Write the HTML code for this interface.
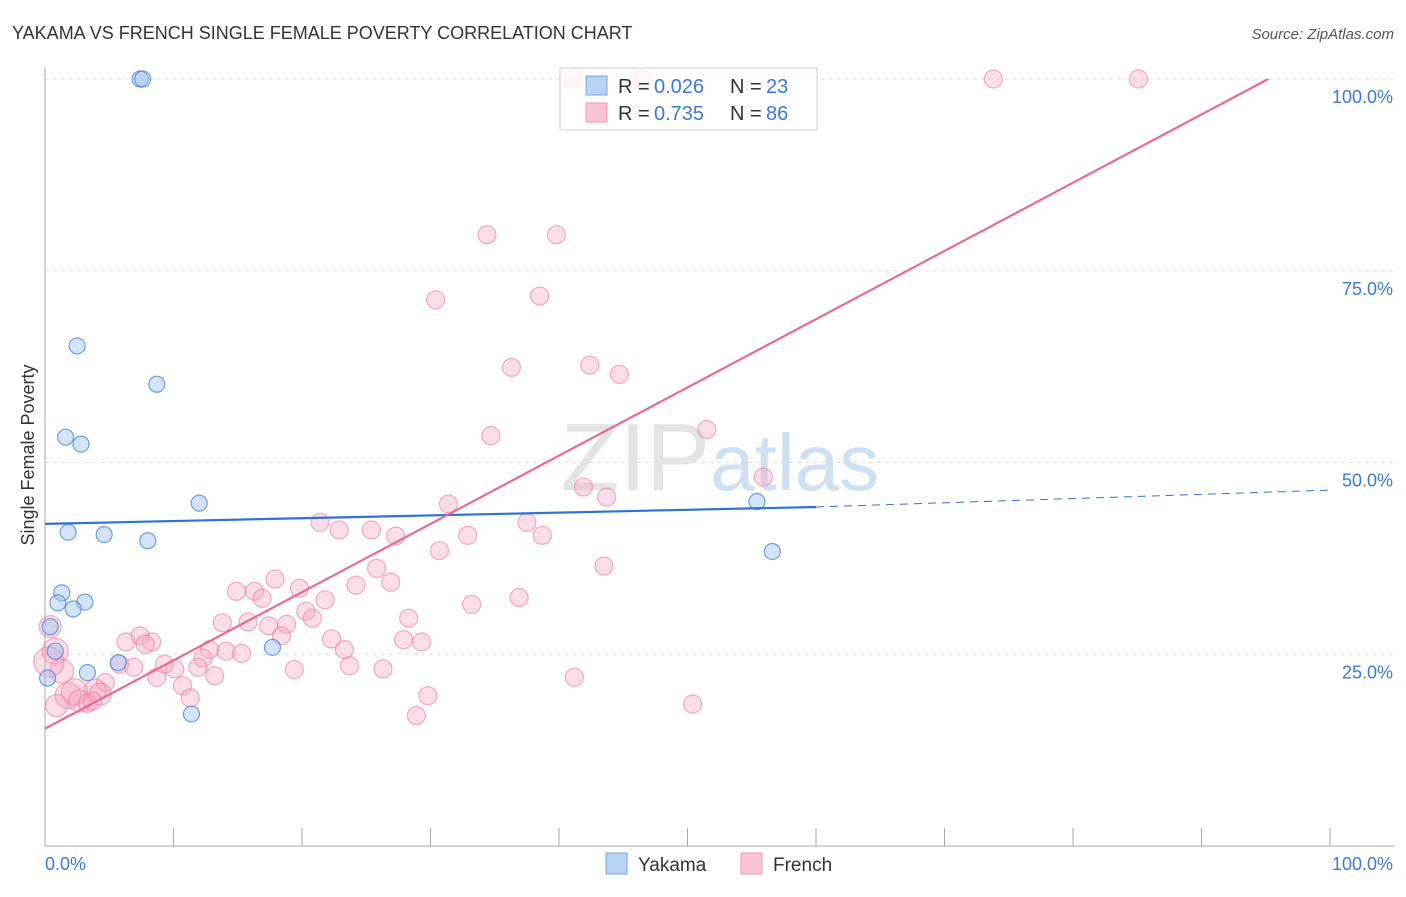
<!DOCTYPE html>
<html><head><meta charset="utf-8"><style>
body{margin:0;background:#fff;font-family:"Liberation Sans",sans-serif;}
svg text{font-family:"Liberation Sans",sans-serif;}
</style></head><body>
<svg id="chart" width="1406" height="892">
<text x="12" y="39" font-size="18" fill="#333">YAKAMA VS FRENCH SINGLE FEMALE POVERTY CORRELATION CHART</text>
<text x="1394" y="39" font-size="15" fill="#555" font-style="italic" text-anchor="end">Source: ZipAtlas.com</text>
<text x="720" y="490" font-size="96" fill="#e3e3e3" text-anchor="middle" font-family="Liberation Serif">ZIP<tspan fill="#cfe0f3" font-family="Liberation Sans" font-size="80">atlas</tspan></text>
<text transform="translate(34,455) rotate(-90)" font-size="18" fill="#333" text-anchor="middle">Single Female Poverty</text>
<g id="grid"></g>
<g id="marks"></g>
<g id="lines"></g>
<rect x="560" y="68" width="257" height="62" fill="rgba(255,255,255,0.8)" stroke="#ccc"/>
<rect x="586" y="76" width="21" height="19" fill="#b9d3f5" stroke="#7aa6e0"/>
<rect x="586" y="103" width="21" height="19" fill="#f9c4d4" stroke="#ee99b3"/>
<g font-size="20">
<text x="618" y="93" fill="#333">R =</text><text x="654" y="93" fill="#3b78d8">0.026</text>
<text x="730" y="93" fill="#333">N =</text><text x="766" y="93" fill="#3b78d8">23</text></g>
<g font-size="20">
<text x="618" y="120" fill="#333">R =</text><text x="654" y="120" fill="#3b78d8">0.735</text>
<text x="730" y="120" fill="#333">N =</text><text x="766" y="120" fill="#3b78d8">86</text></g>
<rect x="606" y="853" width="21" height="21" fill="#b9d3f5" stroke="#7aa6e0"/>
<text x="638" y="871" font-size="19" fill="#333">Yakama</text>
<rect x="741" y="853" width="21" height="21" fill="#f9c4d4" stroke="#ee99b3"/>
<text x="773" y="871" font-size="19" fill="#333">French</text>
</svg>
<script>
const yTicks=[25,50,75,100];
const yTickLabels=["25.0%","50.0%","75.0%","100.0%"];
const blueX=[7.4,7.6,2.5,8.7,1.6,2.8,12,1.8,4.6,8,1.3,1,3.1,2.2,0.4,0.8,3.3,5.7,0.2,17.7,11.4,55.4,56.6];
const blueY=[100,100,65.2,60.2,53.3,52.4,44.7,40.9,40.6,39.8,33,31.7,31.8,30.9,28.6,25.4,22.6,23.9,21.9,25.9,17.2,44.9,38.4];
const pinkX=[41.1,46.5,73.8,85.1,34.4,39.8,30.4,38.5,36.3,42.4,44.7,34.7,51.5,55.9,41.9,43.7,31.4,21.4,37.5,22.9,25.4,27.3,32.9,38.7,30.7,43.5,25.8,17.9,24.2,14.9,16.3,19.8,26.9,16.9,21.8,33.2,36.9,20.3,20.8,28.3,13.8,15.8,17.4,18.8,22.3,27.9,29.3,7.4,6.3,8.3,7.8,12.8,14.1,23.3,15.3,12.3,18.4,0.4,0.8,9.3,11.9,23.7,5.8,6.9,1.3,10.1,8.7,13.2,19.4,26.3,41.2,4.7,3.9,10.7,2.3,4.3,11.3,29.8,1.8,2.7,3.3,3.7,28.9,50.4,0.9,0.3];
const pinkY=[100,100,100,100,79.7,79.7,71.2,71.7,62.4,62.7,61.5,53.5,54.3,48.1,46.8,45.5,44.6,42.2,42.2,41.2,41.2,40.4,40.5,40.5,38.5,36.5,36.2,34.8,34,33.2,33.2,33.6,34.4,32.3,32.1,31.5,32.4,30.6,29.7,29.7,29.1,29.2,28.7,28.9,27,26.9,26.6,27.4,26.6,26.6,26.3,25.6,25.4,25.6,25.1,24.5,27.4,28.6,25.4,23.7,23.3,23.5,23.7,23.3,22.8,23.1,22,22.2,23,23.1,22,21.3,20.3,20.9,20.1,19.8,19.3,19.6,19.6,18.9,18.6,18.9,17,18.5,18.3,24];
const pinkR=[9,9,9,9,9,9,9,9,9,9,9,9,9,9,9,9,9,9,9,9,9,9,9,9,9,9,9,9,9,9,9,9,9,9,9,9,9,9,9,9,9,9,9,9,9,9,9,9,9,9,9,9,9,9,9,9,9,11,13,9,9,9,9,9,12,9,9,9,9,9,9,9,11,9,13,11,9,9,13,11,9,9,9,9,11,15];
const blueTrend=[42,44.2,46.4];
const pinkTrend=[15.3,100];
const X0=45,X1=1330,Y0=846,Y100=79;
const sx=v=>X0+(X1-X0)*v/100, sy=v=>Y0-(Y0-Y100)*v/100;
const NS="http://www.w3.org/2000/svg";
function mk(tag,attrs,parent){const e=document.createElementNS(NS,tag);for(const k in attrs)e.setAttribute(k,attrs[k]);parent.appendChild(e);return e;}
const grid=document.getElementById('grid'),marks=document.getElementById('marks'),lines=document.getElementById('lines');
yTicks.forEach((t,i)=>{
 const g=mk('line',{x1:X0,x2:1395,y1:sy(t),y2:sy(t),stroke:'#ddd','stroke-dasharray':'4,4'},grid);
 
 
 const l=mk('text',{x:1393,y:sy(t)+24,'font-size':18,fill:'#3b78d8','text-anchor':'end'},grid);
 l.textContent=yTickLabels[i];
 
 
});
let ax=mk('line',{x1:X0,x2:X0,y1:67,y2:Y0,stroke:'#aaa'},grid);


ax=mk('line',{x1:X0,x2:1395,y1:Y0,y2:Y0,stroke:'#aaa'},grid);


for(let i=0;i<=10;i++){
 const t=mk('line',{x1:sx(i*10),x2:sx(i*10),y1:Y0-18,y2:Y0,stroke:'#aaa'},grid);
 
 
}
let xl=mk('text',{x:45,y:870,'font-size':18,fill:'#3b78d8'},grid);xl.textContent='0.0%';


xl=mk('text',{x:1393,y:870,'font-size':18,fill:'#3b78d8','text-anchor':'end'},grid);xl.textContent='100.0%';


pinkX.forEach((v,i)=>{
 const c=mk('circle',{cx:sx(v),cy:sy(pinkY[i]),r:pinkR[i],fill:'rgba(246,160,188,0.35)',stroke:'rgba(236,120,157,0.6)','stroke-width':1.2},marks);
 
 
});
blueX.forEach((v,i)=>{
 const c=mk('circle',{cx:sx(v),cy:sy(blueY[i]),r:8,fill:'rgba(160,196,240,0.45)',stroke:'rgba(70,130,215,0.75)','stroke-width':1.2},marks);
 
 
});
let tl=mk('line',{x1:sx(0),y1:sy(blueTrend[0]),x2:sx(60),y2:sy(blueTrend[1]),stroke:'#2f72d6','stroke-width':2.2},lines);


tl=mk('line',{x1:sx(60),y1:sy(blueTrend[1]),x2:sx(100),y2:sy(blueTrend[2]),stroke:'#2f72d6','stroke-width':1,'stroke-dasharray':'8,6'},lines);


tl=mk('line',{x1:sx(0),y1:sy(pinkTrend[0]),x2:sx(95.2),y2:sy(pinkTrend[1]),stroke:'#e8689a','stroke-width':2.2},lines);


</script>
</body></html>
